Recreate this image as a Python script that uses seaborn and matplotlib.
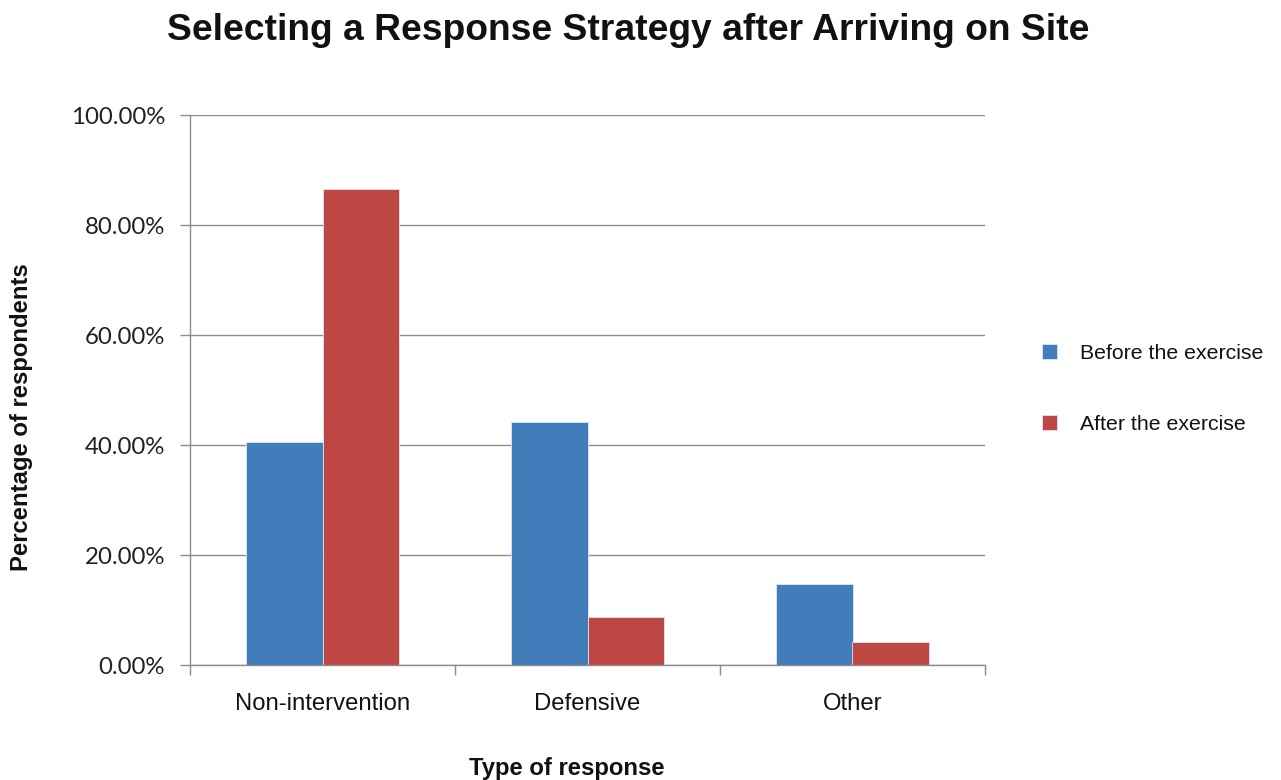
import matplotlib
matplotlib.use("Agg")
import matplotlib.pyplot as plt
from matplotlib.ticker import FixedLocator, PercentFormatter
import seaborn as sns
import pandas as pd

categories = ["Non-intervention", "Defensive", "Other"]
series = ["Before the exercise", "After the exercise"]
before_values = [40.5, 44.3, 14.7]
after_values = [86.7, 8.7, 4.2]
y_ticks = [0, 20, 40, 60, 80, 100]

colors = ["#417CBB", "#BE4643"]

df = pd.DataFrame({
    "Type of response": categories * 2,
    "Percentage": before_values + after_values,
    "Period": [series[0]] * 3 + [series[1]] * 3,
})

sns.set_theme(style="white")
plt.rcParams["font.family"] = ["Liberation Sans", "DejaVu Sans"]

fig = plt.figure(figsize=(12.81, 7.8), dpi=100)
ax = fig.add_axes([190 / 1281, 1 - 665 / 780, 795 / 1281, 549.5 / 780])

sns.barplot(data=df, x="Type of response", y="Percentage", hue="Period",
            hue_order=series, order=categories, palette=colors,
            width=0.575, edgecolor="#DCE6F2", linewidth=0.6,
            ax=ax, legend=True, saturation=1)

ax.set_xlim(-0.5, 2.5)
ax.set_ylim(0, 100)
ax.yaxis.set_major_locator(FixedLocator(y_ticks))
ax.yaxis.set_major_formatter(PercentFormatter(decimals=2))
ax.yaxis.grid(True, color="#8C8C8C", linewidth=1.0)
ax.set_axisbelow(True)

for s in ["top", "right"]:
    ax.spines[s].set_visible(False)
for s in ["left", "bottom"]:
    ax.spines[s].set_color("#8C8C8C")
    ax.spines[s].set_linewidth(1.0)

ax.tick_params(axis="y", which="major", length=7, color="#8C8C8C", width=1.0,
               left=True, pad=11, labelsize=17.3, labelcolor="#222222")
for lbl in ax.get_yticklabels():
    lbl.set_family(["Lato", "DejaVu Sans"])

ax.tick_params(axis="x", which="major", length=0, pad=20, labelsize=17.2,
               labelcolor="#111111")
ax.set_xticks([-0.5, 0.5, 1.5, 2.5], minor=True)
ax.tick_params(axis="x", which="minor", length=7, color="#8C8C8C", width=1.0,
               bottom=True, direction="out")

ax.set_xlabel("")
ax.set_ylabel("")

fig.text(628 / 1281, 1 - 30 / 780, "Selecting a Response Strategy after Arriving on Site",
         ha="center", va="center", fontsize=26.8, fontweight="bold", color="#111111")
fig.text(567 / 1281, 1 - 768 / 780, "Type of response", ha="center", va="center",
         fontsize=17.2, fontweight="bold", color="#111111")
fig.text(22 / 1281, 1 - 417 / 780, "Percentage of respondents", ha="center", va="center",
         rotation=90, fontsize=17.2, fontweight="bold", color="#111111")

leg = ax.legend(loc="center left", bbox_to_anchor=(1023 / 1281, 1 - 389 / 780),
                bbox_transform=fig.transFigure, frameon=False, fontsize=15.3,
                handlelength=0.72, handleheight=0.72, handletextpad=1.06,
                labelspacing=2.45, title=None)
for t in leg.get_texts():
    t.set_color("#111111")

fig.savefig("out.png", dpi=100)
